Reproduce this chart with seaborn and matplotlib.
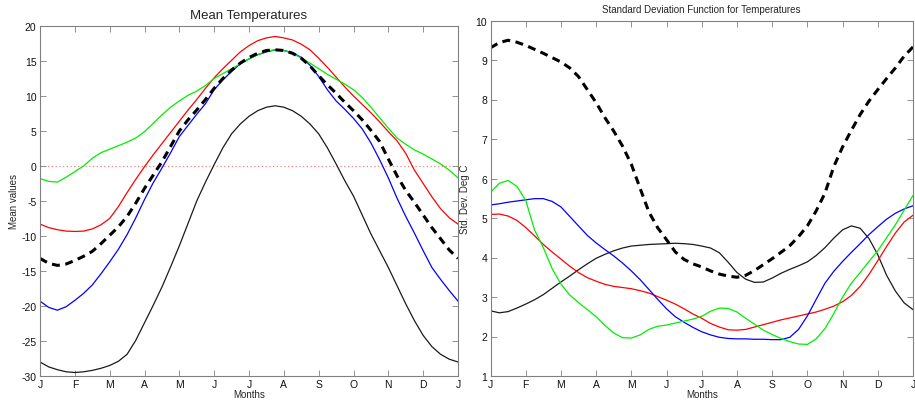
import numpy as np
import pandas as pd
import matplotlib
matplotlib.use("Agg")
import matplotlib.pyplot as plt
import seaborn as sns

# Quarter-month positions along the year (0 = January, 12 = following January)
months = [i / 4 for i in range(49)]
month_labels = ["J", "F", "M", "A", "M", "J", "J", "A", "S", "O", "N", "D", "J"]

# Mean temperature curves (deg C)
mean_black = [-28.0, -28.7, -29.1, -29.4, -29.5, -29.4, -29.2, -28.9, -28.5, -27.9,
              -26.9, -24.9, -22.4, -19.9, -17.3, -14.4, -11.4, -8.2, -5.0, -2.3,
              0.2, 2.6, 4.6, 6.0, 7.1, 7.9, 8.4, 8.6, 8.4, 7.9,
              7.1, 6.0, 4.6, 2.6, 0.3, -2.1, -4.3, -7.0, -9.7, -12.1,
              -14.5, -17.1, -19.7, -22.1, -24.2, -25.8, -26.9, -27.6, -28.0]
mean_red = [-8.3, -8.8, -9.1, -9.3, -9.35, -9.3, -9.0, -8.4, -7.5, -5.8,
            -3.8, -1.9, -0.1, 1.6, 3.2, 4.8, 6.4, 8.0, 9.5, 11.1,
            12.6, 13.9, 15.1, 16.3, 17.2, 17.9, 18.3, 18.5, 18.3, 18.0,
            17.4, 16.6, 15.4, 14.1, 12.7, 11.3, 10.0, 8.8, 7.6, 6.3,
            4.9, 3.6, 1.8, -0.6, -2.5, -4.4, -6.1, -7.4, -8.3]
mean_blue = [-19.3, -20.2, -20.6, -20.1, -19.2, -18.2, -17.0, -15.4, -13.7, -11.9,
             -9.8, -7.4, -4.8, -2.4, -0.3, 1.9, 4.2, 5.8, 7.4, 8.9,
             10.9, 12.3, 13.5, 14.6, 15.3, 15.9, 16.3, 16.6, 16.5, 16.2,
             15.5, 14.4, 12.8, 10.9, 9.3, 8.1, 6.8, 5.3, 3.3, 0.9,
             -1.7, -4.6, -7.2, -9.6, -12.1, -14.5, -16.2, -17.8, -19.3]
mean_green = [-1.8, -2.2, -2.3, -1.6, -0.8, 0.0, 1.1, 1.9, 2.4, 2.9,
              3.4, 4.0, 4.9, 6.1, 7.3, 8.4, 9.3, 10.1, 10.7, 11.5,
              12.5, 13.2, 13.9, 14.6, 15.3, 15.9, 16.4, 16.6, 16.5, 16.1,
              15.4, 14.7, 13.9, 13.1, 12.4, 11.7, 10.9, 9.8, 8.4, 6.9,
              5.4, 4.0, 3.1, 2.3, 1.7, 1.0, 0.3, -0.6, -1.7]
mean_all = [-13.2, -13.9, -14.2, -14.0, -13.5, -12.9, -12.2, -11.1, -9.9, -8.7,
            -7.2, -5.3, -3.2, -1.3, 0.6, 2.8, 5.0, 6.6, 8.0, 9.5,
            11.1, 12.5, 13.7, 14.7, 15.5, 16.1, 16.5, 16.6, 16.5, 16.1,
            15.4, 14.3, 12.9, 11.6, 10.4, 9.1, 7.9, 6.6, 5.1, 3.5,
            1.0, -1.4, -3.5, -5.2, -7.0, -8.8, -10.4, -12.0, -13.2]

# Standard deviation curves (deg C)
sd_black = [2.65, 2.60, 2.63, 2.72, 2.82, 2.93, 3.06, 3.22, 3.38, 3.53,
            3.69, 3.84, 3.98, 4.08, 4.17, 4.24, 4.29, 4.31, 4.33, 4.34,
            4.35, 4.36, 4.35, 4.33, 4.29, 4.24, 4.12, 3.88, 3.62, 3.45,
            3.37, 3.38, 3.48, 3.60, 3.70, 3.79, 3.89, 4.05, 4.25, 4.49,
            4.70, 4.80, 4.74, 4.48, 4.07, 3.55, 3.15, 2.85, 2.68]
sd_red = [5.09, 5.10, 5.05, 4.94, 4.76, 4.55, 4.33, 4.14, 3.96, 3.78,
          3.62, 3.49, 3.40, 3.32, 3.27, 3.24, 3.21, 3.16, 3.10, 3.01,
          2.92, 2.82, 2.70, 2.57, 2.46, 2.33, 2.24, 2.17, 2.16, 2.18,
          2.24, 2.30, 2.36, 2.42, 2.47, 2.52, 2.57, 2.62, 2.69, 2.77,
          2.88, 3.04, 3.27, 3.57, 3.92, 4.28, 4.62, 4.90, 5.07]
sd_blue = [5.33, 5.36, 5.40, 5.43, 5.46, 5.49, 5.49, 5.42, 5.28, 5.04,
           4.80, 4.56, 4.37, 4.20, 4.04, 3.86, 3.66, 3.44, 3.19, 2.94,
           2.70, 2.50, 2.36, 2.23, 2.12, 2.04, 1.98, 1.95, 1.94, 1.94,
           1.93, 1.93, 1.92, 1.92, 1.98, 2.18, 2.52, 2.94, 3.35, 3.65,
           3.90, 4.13, 4.35, 4.58, 4.78, 4.97, 5.12, 5.23, 5.31]
sd_green = [5.65, 5.88, 5.95, 5.80, 5.45, 4.70, 4.25, 3.72, 3.33, 3.05,
            2.86, 2.68, 2.50, 2.28, 2.09, 1.97, 1.96, 2.04, 2.18, 2.26,
            2.29, 2.34, 2.39, 2.44, 2.51, 2.64, 2.72, 2.71, 2.62, 2.46,
            2.31, 2.16, 2.05, 1.95, 1.87, 1.81, 1.80, 1.94, 2.20, 2.58,
            3.00, 3.35, 3.62, 3.90, 4.17, 4.50, 4.83, 5.20, 5.57]
sd_all = [9.31, 9.44, 9.50, 9.45, 9.37, 9.27, 9.17, 9.06, 8.95, 8.80,
          8.58, 8.25, 7.92, 7.54, 7.20, 6.82, 6.36, 5.75, 5.15, 4.75,
          4.45, 4.14, 3.95, 3.84, 3.76, 3.66, 3.58, 3.53, 3.50, 3.55,
          3.67, 3.82, 3.97, 4.13, 4.30, 4.53, 4.80, 5.18, 5.63, 6.30,
          6.80, 7.22, 7.62, 7.96, 8.25, 8.53, 8.80, 9.10, 9.33]

left_yticks = [-30, -25, -20, -15, -10, -5, 0, 5, 10, 15, 20]
right_yticks = [1, 2, 3, 4, 5, 6, 7, 8, 9, 10]

sns.set_style("white")
plt.rcParams["font.family"] = ["Liberation Sans", "DejaVu Sans"]
plt.rcParams["axes.unicode_minus"] = False

fig = plt.figure(figsize=(9.15, 4.02), dpi=100)
ax1 = fig.add_axes([40 / 915, 1 - 377 / 402, 418 / 915, 350 / 402])
ax2 = fig.add_axes([490.5 / 915, 1 - 377 / 402, 422.5 / 915, 355.5 / 402])

thin = dict(linewidth=0.9)
dash_style = dict(color="black", linewidth=2.2, linestyle=(0, (2.6, 1.8)))


def draw(ax, black, red, blue, green, overall):
    sns.lineplot(x=months, y=black, ax=ax, color="#1a1a1a", **thin)
    sns.lineplot(x=months, y=red, ax=ax, color="#ff0000", **thin)
    sns.lineplot(x=months, y=blue, ax=ax, color="#0000ff", **thin)
    sns.lineplot(x=months, y=green, ax=ax, color="#00ee00", **thin)
    sns.lineplot(x=months, y=overall, ax=ax, **dash_style)


draw(ax1, mean_black, mean_red, mean_blue, mean_green, mean_all)
ax1.axhline(0, color="#ff8080", linewidth=0.9, linestyle=(0, (1, 2)), zorder=0)
draw(ax2, sd_black, sd_red, sd_blue, sd_green, sd_all)

for ax, yt in ((ax1, left_yticks), (ax2, right_yticks)):
    ax.set_xlim(0, 12)
    ax.set_ylim(yt[0], yt[-1])
    ax.set_xticks(range(13))
    ax.set_xticklabels(month_labels)
    ax.set_yticks(yt)
    ax.tick_params(direction="in", length=4, width=0.6, color="#808080",
                   labelsize=7.5, labelcolor="#111111", pad=2.5,
                   top=True, right=True, bottom=True, left=True)
    for s in ax.spines.values():
        s.set_color("#808080")
        s.set_linewidth(0.8)
    ax.set_xlabel("Months", fontsize=7, labelpad=0)

ax1.set_ylabel("Mean values", fontsize=7, labelpad=2)
ax2.set_ylabel("Std. Dev. Deg C", fontsize=7, labelpad=4)
ax1.set_title("Mean Temperatures", fontsize=9.5, pad=6)
ax2.set_title("Standard Deviation Function for Temperatures", fontsize=7, pad=6)

fig.savefig("out.png", dpi=100)
